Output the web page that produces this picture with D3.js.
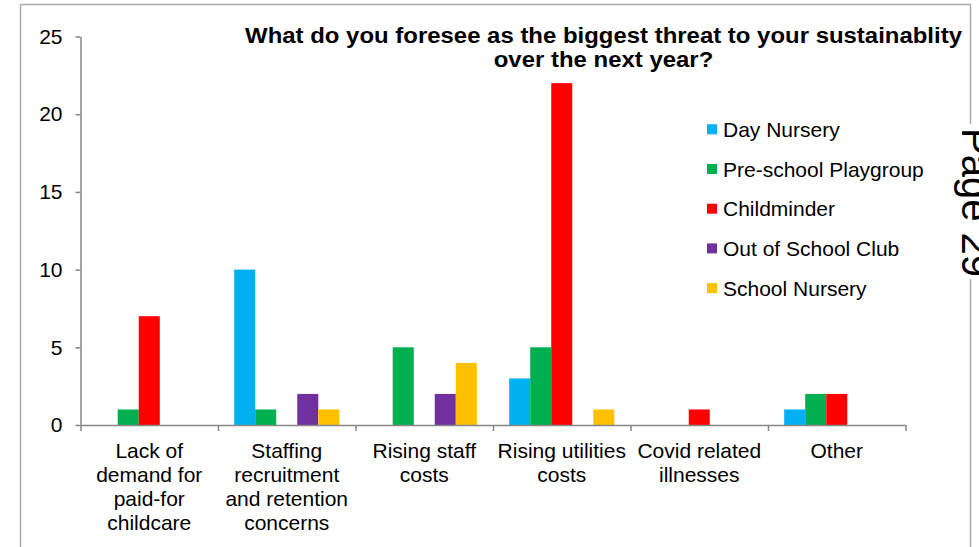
<!DOCTYPE html>
<html>
<head>
<meta charset="utf-8">
<script src="https://cdn.jsdelivr.net/npm/d3@7"></script>
<style>
  body { margin: 0; background: #fff; }
  svg { display: block; font-family: "Liberation Sans", Arial, sans-serif; }
</style>
</head>
<body>
<svg id="chart" width="979" height="547"></svg>
<script>
// chart data
const categories = [
    "Lack of\ndemand for\npaid-for\nchildcare",
    "Staffing\nrecruitment\nand retention\nconcerns",
    "Rising staff\ncosts",
    "Rising utilities\ncosts",
    "Covid related\nillnesses",
    "Other"
];
const seriesNames = ["Day Nursery", "Pre-school Playgroup", "Childminder", "Out of School Club", "School Nursery"];
const seriesColors = ["#00B0F0", "#00B050", "#FF0000", "#7030A0", "#FFC000"];
const dayNursery   = [0, 10, 0, 3, 0, 1];
const preschool    = [1, 1, 5, 5, 0, 2];
const childminder  = [7, 0, 0, 22, 1, 2];
const outOfSchool  = [0, 2, 2, 0, 0, 0];
const schoolNursery = [0, 1, 4, 1, 0, 0];
const yTicks = [0, 5, 10, 15, 20, 25];
const titleLines = ["What do you foresee as the biggest threat to your sustainablity", "over the next year?"];

const seriesValues = [dayNursery, preschool, childminder, outOfSchool, schoolNursery];

var margin = { top: 36.5, left: 80.5, right: 905.5, bottom: 425 };
var axisColor = "#868686";

var svg = d3.select("#chart");

// outer frame of the embedded chart
svg.append("rect")
    .attr("x", 20.5).attr("y", 4.5)
    .attr("width", 950).attr("height", 600)
    .attr("fill", "none")
    .attr("stroke", "#ABABAB")
    .attr("stroke-width", 1.5);

// scales
var x = d3.scaleBand()
    .domain(d3.range(categories.length))
    .range([margin.left, margin.right])
    .padding(0);

var xInner = d3.scaleBand()
    .domain(d3.range(seriesNames.length))
    .range([0, x.bandwidth()])
    .paddingInner(0)
    .paddingOuter(0.77);

var y = d3.scaleLinear()
    .domain([0, 25])
    .range([margin.bottom, margin.top]);

// bars
var rows = [];
categories.forEach((c, ci) => {
    seriesValues.forEach((vals, si) => {
        if (vals[ci] > 0) rows.push({ ci: ci, si: si, v: vals[ci] });
    });
});

svg.append("g").selectAll("rect")
    .data(rows)
    .enter()
    .append("rect")
        .attr("x", d => x(d.ci) + xInner(d.si))
        .attr("y", d => y(d.v))
        .attr("width", xInner.bandwidth())
        .attr("height", d => y(0) - y(d.v))
        .attr("fill", d => seriesColors[d.si]);

// y axis
var yAxis = svg.append("g")
    .attr("transform", "translate(" + margin.left + ",0)")
    .call(d3.axisLeft(y).tickValues(yTicks).tickSize(5).tickSizeOuter(0).tickPadding(13));

yAxis.selectAll("text")
    .attr("font-size", 21)
    .attr("font-family", "Liberation Sans, Arial, sans-serif")
    .attr("fill", "#000");

// x axis: boundary ticks between categories
var xEdges = d3.scaleLinear().domain([0, categories.length]).range([margin.left, margin.right]);
svg.append("g")
    .attr("transform", "translate(0," + margin.bottom + ")")
    .call(d3.axisBottom(xEdges).tickValues(d3.range(categories.length + 1)).tickSize(6).tickSizeOuter(0).tickFormat(""));

svg.selectAll(".domain, .tick line")
    .attr("stroke", axisColor)
    .attr("stroke-width", 1.5);

// category labels
svg.append("g").selectAll("text")
    .data(categories)
    .enter()
    .append("text")
        .attr("text-anchor", "middle")
        .attr("font-size", 21)
        .attr("fill", "#000")
        .each(function(d, i) {
            var t = d3.select(this);
            d.split("\n").forEach((line, li) => {
                t.append("tspan")
                    .attr("x", x(i) + x.bandwidth() / 2)
                    .attr("y", 457.5 + li * 24.2)
                    .text(line);
            });
        });

// title, squeezed to the reference width
var title = svg.append("g");
titleLines.forEach((line, i) => {
    title.append("text")
        .attr("x", 0)
        .attr("y", 43 + i * 24.5)
        .attr("text-anchor", "middle")
        .attr("font-size", 21.5)
        .attr("font-weight", "bold")
        .attr("fill", "#000")
        .text(line);
});
var w0 = title.select("text").node().getComputedTextLength();
title.attr("transform", "translate(603.5,0) scale(" + (717 / w0) + ",1)");

// legend
var legend = svg.append("g").selectAll("g")
    .data(seriesNames)
    .enter()
    .append("g")
        .attr("transform", (d, i) => "translate(707," + (129.3 + i * 39.7) + ")");

legend.append("rect")
    .attr("x", 0).attr("y", -5)
    .attr("width", 10).attr("height", 10)
    .attr("fill", (d, i) => seriesColors[i]);

legend.append("text")
    .attr("x", 16)
    .attr("y", 7.5)
    .attr("font-size", 21)
    .attr("fill", "#000")
    .text(d => d);

// page number stamped over the frame (cut by the right edge, as in the scan)
var page = svg.append("g").attr("transform", "translate(962,128) rotate(90)");
page.append("rect")
    .attr("x", -4).attr("y", -40)
    .attr("width", 155).attr("height", 55)
    .attr("fill", "#fff");
page.append("text")
    .attr("x", 0).attr("y", 0)
    .attr("font-size", 40)
    .attr("fill", "#000")
    .text("Page 29");
</script>
</body>
</html>
